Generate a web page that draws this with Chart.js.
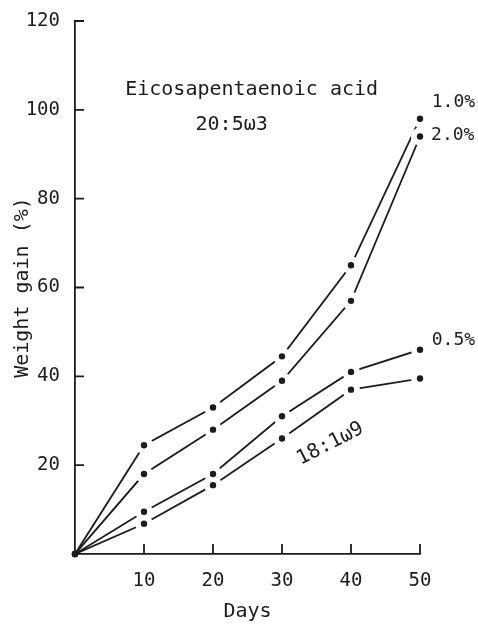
<!DOCTYPE html>
<html>
<head>
<meta charset="utf-8">
<script src="https://cdn.jsdelivr.net/npm/chart.js@4"></script>
<style>
  html, body { margin: 0; padding: 0; background: #fff; }
  #wrap { width: 478px; height: 628px; }
</style>
</head>
<body>
<div id="wrap"><canvas id="myChart" width="478" height="628"></canvas></div>
<script>
// days and weight gain (%)
var days = [0, 10, 20, 30, 40, 50];
var epa10 = [0, 24.5, 33, 44.5, 65, 98];   // 1.0%
var epa20 = [0, 18, 28, 39, 57, 94];       // 2.0%
var epa05 = [0, 9.5, 18, 31, 41, 46];      // 0.5%
var oleic = [0, 6.8, 15.5, 26, 37, 39.5];  // 18:1w9
var xTicks = [10, 20, 30, 40, 50];
var yTicks = [20, 40, 60, 80, 100, 120];

var ink = '#1c1c1c';
var mono = '"DejaVu Sans Mono", monospace';

function series(vals) {
    return {
        data: days.map(function (d, i) { return {x: d, y: vals[i]}; }),
        borderColor: ink,
        borderWidth: 1.8,
        backgroundColor: ink,
        pointRadius: 0,
        tension: 0,
        fill: false
    };
}

// dots with a white halo so the pen lines stop short of each point
var haloDots = {
    id: 'haloDots',
    afterDraw: function (chart) {
        var ctx = chart.ctx;
        ctx.save();
        chart.data.datasets.forEach(function (ds, di) {
            chart.getDatasetMeta(di).data.forEach(function (pt, i) {
                if (i === 0) return;
                ctx.fillStyle = '#ffffff';
                ctx.beginPath(); ctx.arc(pt.x, pt.y, 9, 0, Math.PI * 2); ctx.fill();
            });
        });
        chart.data.datasets.forEach(function (ds, di) {
            chart.getDatasetMeta(di).data.forEach(function (pt) {
                ctx.fillStyle = ink;
                ctx.beginPath(); ctx.arc(pt.x, pt.y, 3.2, 0, Math.PI * 2); ctx.fill();
            });
        });
        ctx.restore();
    }
};

// inward tick marks
var inwardTicks = {
    id: 'inwardTicks',
    afterDatasetsDraw: function (chart) {
        var ctx = chart.ctx, xs = chart.scales.x, ys = chart.scales.y;
        var a = chart.chartArea;
        ctx.save();
        ctx.strokeStyle = ink;
        ctx.lineWidth = 1.8;
        ctx.beginPath();
        yTicks.forEach(function (v) {
            var y = ys.getPixelForValue(v);
            ctx.moveTo(a.left, y); ctx.lineTo(a.left + 9, y);
        });
        xTicks.forEach(function (v) {
            var x = xs.getPixelForValue(v);
            ctx.moveTo(x, a.bottom); ctx.lineTo(x, a.bottom - 10);
        });
        ctx.stroke();
        ctx.restore();
    }
};

// text notes placed in data coordinates
var notes = [
    {text: 'Eicosapentaenoic acid', x: 25.6, y: 104.5, align: 'center', rot: 0, size: 20},
    {text: '20:5\u03c93', x: 22.7, y: 96.6, align: 'center', rot: 0, size: 20},
    {text: '1.0%', x: 51.7, y: 101.8, align: 'left', rot: 0, size: 18},
    {text: '2.0%', x: 51.6, y: 94.3, align: 'left', rot: 0, size: 18},
    {text: '0.5%', x: 51.7, y: 48.2, align: 'left', rot: 0, size: 18},
    {text: '18:1\u03c99', x: 37, y: 24.8, align: 'center', rot: -27, size: 20}
];
var noteText = {
    id: 'noteText',
    afterDatasetsDraw: function (chart) {
        var ctx = chart.ctx, xs = chart.scales.x, ys = chart.scales.y;
        ctx.save();
        ctx.fillStyle = ink;
        ctx.textBaseline = 'middle';
        notes.forEach(function (n) {
            ctx.save();
            ctx.font = n.size + 'px ' + mono;
            ctx.translate(xs.getPixelForValue(n.x), ys.getPixelForValue(n.y));
            ctx.rotate(n.rot * Math.PI / 180);
            ctx.textAlign = n.align;
            ctx.fillText(n.text, 0, 0);
            ctx.restore();
        });
        ctx.restore();
    }
};

var ctx = document.getElementById('myChart').getContext('2d');
var chart = new Chart(ctx, {
    type: 'line',
    data: {
        datasets: [series(epa10), series(epa20), series(epa05), series(oleic)]
    },
    options: {
        responsive: false,
        animation: false,
        events: [],
        layout: { padding: { top: 21, right: 58, left: 0, bottom: 0 } },
        plugins: { legend: { display: false }, tooltip: { enabled: false } },
        scales: {
            x: {
                type: 'linear',
                min: 0, max: 50,
                afterFit: function (s) { s.height = 74; },
                grid: { display: false },
                border: { display: true, color: ink, width: 1.8 },
                ticks: {
                    stepSize: 10,
                    padding: 8,
                    color: ink,
                    font: { family: mono, size: 19 },
                    callback: function (v) { return v === 0 ? '' : v; }
                },
                title: {
                    display: true, text: 'Days', color: ink,
                    font: { family: mono, size: 20 },
                    padding: { top: 0, bottom: 4 }
                }
            },
            y: {
                min: 0, max: 120,
                afterFit: function (s) { s.width = 75; },
                grid: { display: false },
                border: { display: true, color: ink, width: 1.8 },
                ticks: {
                    stepSize: 20,
                    padding: 7,
                    color: ink,
                    font: { family: mono, size: 19 },
                    callback: function (v) { return v === 0 ? '' : v; }
                },
                title: {
                    display: true, text: 'Weight gain (%)', color: ink,
                    font: { family: mono, size: 20 },
                    padding: { top: 11, bottom: 0 }
                }
            }
        }
    },
    plugins: [haloDots, inwardTicks, noteText]
});
</script>
</body>
</html>
